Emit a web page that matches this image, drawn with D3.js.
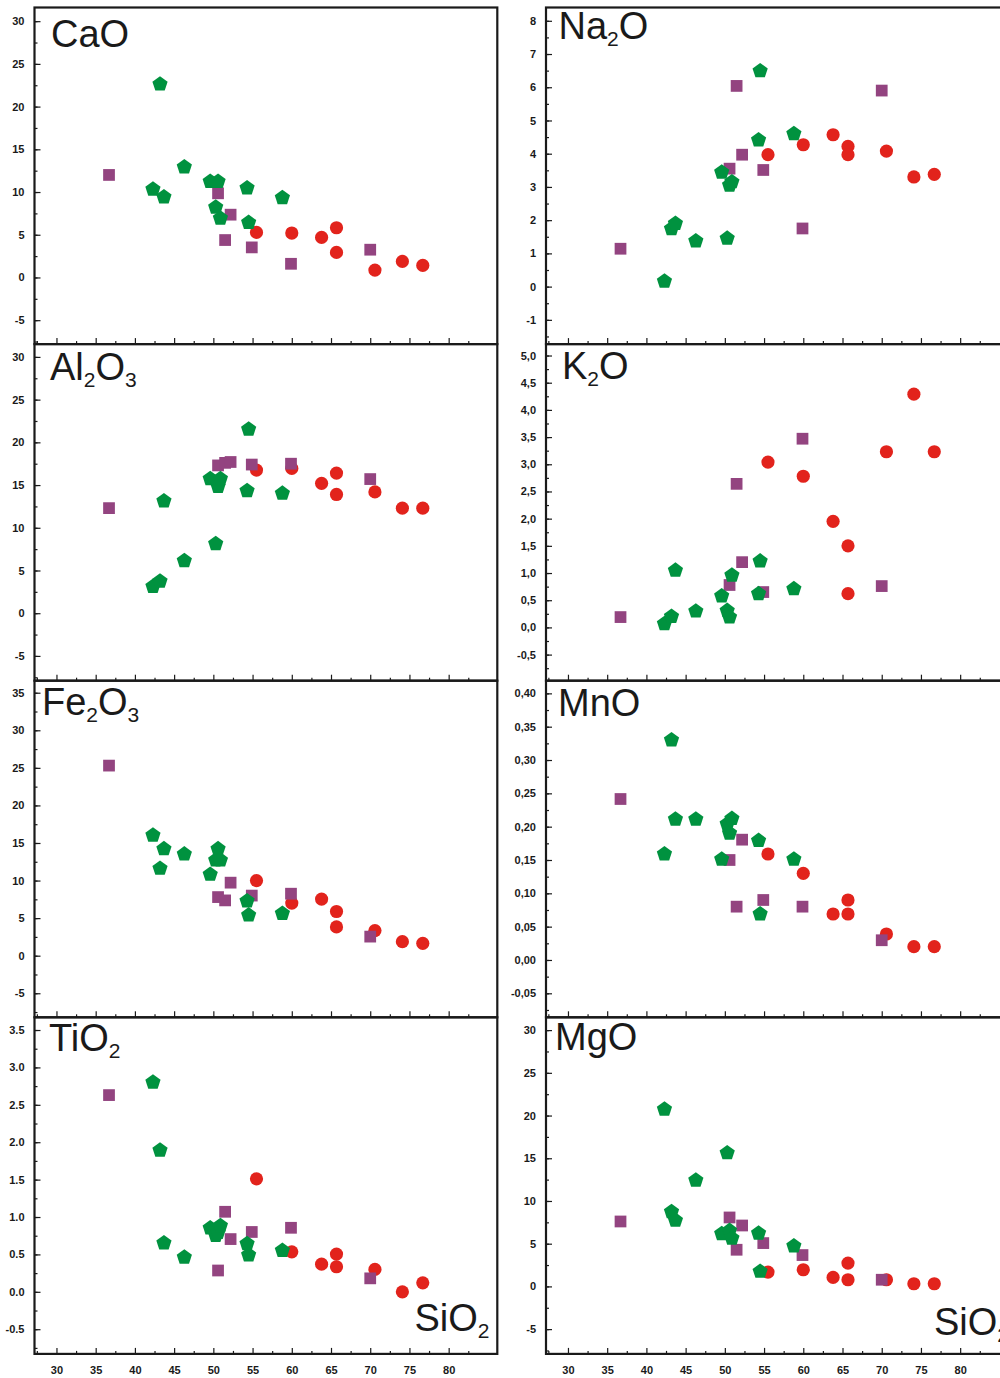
<!DOCTYPE html>
<html>
<head>
<meta charset="utf-8">
<script src="https://cdnjs.cloudflare.com/ajax/libs/d3/7.8.5/d3.min.js"></script>
<style>
body { margin: 0; background: #fff; }
.tick text { font-family: "Liberation Sans Narrow", "Liberation Sans", Arial, sans-serif; font-weight: bold; font-size: 11px; fill: #1a1a1a; }
.tick line { stroke: #1a1a1a; stroke-width: 1.2; }
.etiqueta { font-family: "Liberation Sans", Arial, sans-serif; fill: #1a1a1a; }
</style>
</head>
<body>
<div id="graficaHarker"></div>
<script>
// SiO2 de cada grupo (pentagonos verdes, cuadrados morados, circulos rojos)
var sio2Pent = [42.3, 43.2, 43.7, 46.3, 49.6, 50.3, 50.6, 50.9, 54.3, 54.5, 58.8];
var sio2Cuad = [36.7, 50.6, 51.5, 52.2, 54.9, 59.9, 70.0];
var sio2Circ = [55.5, 60.0, 63.8, 65.7, 65.7, 70.6, 74.1, 76.7];

var caoPent = [10.4, 22.7, 9.5, 13.0, 11.3, 8.3, 11.3, 7.0, 10.55, 6.5, 9.4];
var caoCuad = [12.0, 9.85, 4.38, 7.35, 3.52, 1.6, 3.25];
var caoCirc = [5.27, 5.2, 4.69, 5.82, 2.93, 0.86, 1.88, 1.41];

var na2oPent = [0.18, 1.76, 1.92, 1.39, 3.46, 1.47, 3.07, 3.17, 4.43, 6.51, 4.62];
var na2oCuad = [1.14, 3.55, 6.04, 3.97, 3.51, 1.75, 5.9];
var na2oCirc = [3.97, 4.27, 4.57, 4.22, 3.97, 4.08, 3.30, 3.38];

var al2o3Pent = [3.2, 3.8, 13.2, 6.2, 15.8, 8.2, 14.9, 15.8, 14.4, 21.6, 14.1];
var al2o3Cuad = [12.3, 17.3, 17.6, 17.7, 17.4, 17.5, 15.7];
var al2o3Circ = [16.75, 16.95, 15.2, 16.4, 13.9, 14.2, 12.3, 12.3];

var k2oPent = [0.08, 0.21, 1.06, 0.31, 0.59, 0.32, 0.2, 0.97, 0.63, 1.23, 0.72];
var k2oCuad = [0.19, 0.78, 2.64, 1.2, 0.65, 3.47, 0.76];
var k2oCirc = [3.04, 2.78, 1.95, 1.50, 0.62, 3.23, 4.29, 3.23];

var fe2o3Pent = [16.1, 11.7, 14.3, 13.6, 10.9, 12.8, 14.3, 12.8, 7.36, 5.48, 5.7];
var fe2o3Cuad = [25.3, 7.8, 7.36, 9.72, 8.0, 8.25, 2.54];
var fe2o3Circ = [10.0, 7.0, 7.53, 5.88, 3.83, 3.34, 1.87, 1.65];

var mnoPent = [0.160, 0.331, 0.212, 0.212, 0.152, 0.205, 0.191, 0.213, 0.180, 0.070, 0.152];
var mnoCuad = [0.2415, 0.150, 0.080, 0.1805, 0.090, 0.080, 0.0296];
var mnoCirc = [0.159, 0.130, 0.069, 0.090, 0.069, 0.039, 0.020, 0.020];

var tio2Pent = [2.81, 1.90, 0.66, 0.47, 0.86, 0.76, 0.80, 0.89, 0.65, 0.50, 0.56];
var tio2Cuad = [2.63, 0.285, 1.07, 0.705, 0.80, 0.856, 0.18];
var tio2Circ = [1.51, 0.535, 0.37, 0.504, 0.335, 0.30, 0.0, 0.12];

var mgoPent = [20.8, 8.8, 7.8, 12.5, 6.24, 15.7, 6.6, 5.7, 6.3, 1.83, 4.8];
var mgoCuad = [7.6, 8.07, 4.29, 7.13, 5.07, 3.67, 0.78];
var mgoCirc = [1.68, 1.95, 1.05, 2.73, 0.78, 0.78, 0.31, 0.31];

// etiquetas de los ejes
var ticksSio2 = [30, 35, 40, 45, 50, 55, 60, 65, 70, 75, 80];
var ticksCinco = [-5, 0, 5, 10, 15, 20, 25, 30];
var ticksFe = [-5, 0, 5, 10, 15, 20, 25, 30, 35];
var ticksNa = [-1, 0, 1, 2, 3, 4, 5, 6, 7, 8];
var ticksK = [-0.5, 0, 0.5, 1, 1.5, 2, 2.5, 3, 3.5, 4, 4.5, 5];
var ticksMn = [-0.05, 0, 0.05, 0.1, 0.15, 0.2, 0.25, 0.3, 0.35, 0.4];
var ticksTi = [-0.5, 0, 0.5, 1, 1.5, 2, 2.5, 3, 3.5];

var verde = "#00923f", morado = "#934480", rojo = "#e2231c";

function fmt(dec, sep) {
	return function(d) {
		var s = Math.abs(d).toFixed(dec).replace(".", sep);
		return (d < 0 ? "-" : "") + s;
	};
}

// formula: trozos [texto, es subindice]
var paneles = [
	{ ox: [["CaO", 0]], pent: caoPent, cuad: caoCuad, circ: caoCirc, dom: [-7.8, 31.6], ticks: ticksCinco, paso: 5, f: fmt(0, "."), col: 0, fila: 0, lx: 16.5, ly: 39.5 },
	{ ox: [["Na", 0], ["2", 1], ["O", 0]], pent: na2oPent, cuad: na2oCuad, circ: na2oCirc, dom: [-1.73, 8.4], ticks: ticksNa, paso: 1, f: fmt(0, "."), col: 1, fila: 0, lx: 12.5, ly: 31.5 },
	{ ox: [["Al", 0], ["2", 1], ["O", 0], ["3", 1]], pent: al2o3Pent, cuad: al2o3Cuad, circ: al2o3Circ, dom: [-7.9, 31.5], ticks: ticksCinco, paso: 5, f: fmt(0, "."), col: 0, fila: 1, lx: 15.5, ly: 36 },
	{ ox: [["K", 0], ["2", 1], ["O", 0]], pent: k2oPent, cuad: k2oCuad, circ: k2oCirc, dom: [-0.98, 5.21], ticks: ticksK, paso: 0.5, f: fmt(1, ","), col: 1, fila: 1, lx: 16, ly: 34.5 },
	{ ox: [["Fe", 0], ["2", 1], ["O", 0], ["3", 1]], pent: fe2o3Pent, cuad: fe2o3Cuad, circ: fe2o3Circ, dom: [-8.2, 36.6], ticks: ticksFe, paso: 5, f: fmt(0, "."), col: 0, fila: 2, lx: 7.5, ly: 34.5 },
	{ ox: [["MnO", 0]], pent: mnoPent, cuad: mnoCuad, circ: mnoCirc, dom: [-0.086, 0.419], ticks: ticksMn, paso: 0.05, f: fmt(2, ","), col: 1, fila: 2, lx: 12, ly: 35.5 },
	{ ox: [["TiO", 0], ["2", 1]], pent: tio2Pent, cuad: tio2Cuad, circ: tio2Circ, dom: [-0.83, 3.67], ticks: ticksTi, paso: 0.5, f: fmt(1, "."), col: 0, fila: 3, lx: 14.5, ly: 34 },
	{ ox: [["MgO", 0]], pent: mgoPent, cuad: mgoCuad, circ: mgoCirc, dom: [-7.9, 31.5], ticks: ticksCinco, paso: 5, f: fmt(0, "."), col: 1, fila: 3, lx: 9, ly: 33 }
];

var ancho = 1000, alto = 1378;
var colX = [34.5, 546], panelW = 462.8, panelH = 336.6, top0 = 7.5;

var svg = d3.select("#graficaHarker")
	.append("svg")
	.attr("width", ancho)
	.attr("height", alto);

var x = d3.scaleLinear().domain([27.2, 86.2]);

function pentagono(r) {
	var pts = d3.range(5).map(function(i) {
		var a = -Math.PI / 2 + i * 2 * Math.PI / 5;
		return [r * Math.cos(a), r * Math.sin(a) + 0.6];
	});
	return "M" + pts.join("L") + "Z";
}

function formula(g, trozos, px, py) {
	var t = g.append("text")
		.attr("class", "etiqueta")
		.attr("x", px)
		.attr("y", py)
		.style("font-size", "38px");
	var abajo = false;
	trozos.forEach(function(tr) {
		var sub = tr[1] == 1;
		var dy = sub ? (abajo ? 0 : 7) : (abajo ? -7 : 0);
		t.append("tspan")
			.attr("dy", dy)
			.style("font-size", sub ? "21px" : "38px")
			.text(tr[0]);
		abajo = sub;
	});
}

paneles.forEach(function(p) {
	var x0 = colX[p.col], y0 = top0 + p.fila * panelH;
	var g = svg.append("g").attr("transform", "translate(" + x0 + "," + y0 + ")");
	var xs = x.copy().range([0, panelW]);
	var y = d3.scaleLinear().domain(p.dom).range([panelH, 0]);

	// ticks menores eje y
	var menores = [];
	for (var v = Math.ceil(p.dom[0] / (p.paso / 2)) * p.paso / 2; v <= p.dom[1]; v += p.paso / 2) menores.push(v);
	g.append("g")
		.call(d3.axisLeft(y).tickValues(menores).tickSizeInner(-3).tickSizeOuter(0).tickFormat(""))
		.call(function(s) { s.select(".domain").remove(); });
	g.append("g")
		.call(d3.axisLeft(y).tickValues(p.ticks).tickSizeInner(-6).tickSizeOuter(0).tickPadding(10).tickFormat(p.f))
		.call(function(s) { s.select(".domain").remove(); });

	// eje x (solo etiquetas en la ultima fila)
	var menX = d3.range(27.5, 85, 5);
	g.append("g")
		.attr("transform", "translate(0," + panelH + ")")
		.call(d3.axisBottom(xs).tickValues(menX).tickSizeInner(-3).tickSizeOuter(0).tickFormat(""))
		.call(function(s) { s.select(".domain").remove(); });
	g.append("g")
		.attr("transform", "translate(0," + panelH + ")")
		.call(d3.axisBottom(xs).tickValues(ticksSio2).tickSizeInner(-6).tickSizeOuter(0).tickPadding(12)
			.tickFormat(p.fila == 3 ? d3.format("d") : ""))
		.call(function(s) { s.select(".domain").remove(); });

	// marco
	g.append("rect")
		.attr("width", panelW)
		.attr("height", panelH)
		.attr("fill", "none")
		.attr("stroke", "#1a1a1a")
		.attr("stroke-width", 2.2);

	// puntos: circulos, cuadrados y pentagonos encima
	g.selectAll(".circ")
		.data(p.circ)
		.enter()
		.append("circle")
		.attr("cx", function(d, i) { return xs(sio2Circ[i]); })
		.attr("cy", function(d) { return y(d); })
		.attr("r", 6.6)
		.style("fill", rojo);

	g.selectAll(".cuad")
		.data(p.cuad)
		.enter()
		.append("path")
		.attr("d", d3.symbol().type(d3.symbolSquare).size(138))
		.attr("transform", function(d, i) { return "translate(" + xs(sio2Cuad[i]) + "," + y(d) + ")"; })
		.style("fill", morado);

	g.selectAll(".pent")
		.data(p.pent)
		.enter()
		.append("path")
		.attr("d", pentagono(8))
		.attr("transform", function(d, i) { return "translate(" + xs(sio2Pent[i]) + "," + y(d) + ")"; })
		.style("fill", verde);

	// nombre del oxido
	formula(g, p.ox, p.lx, p.ly);

	if (p.fila == 3) {
		formula(g, [["SiO", 0], ["2", 1]], p.col == 0 ? 380 : 388, p.col == 0 ? panelH - 23 : panelH - 19);
	}
});
</script>
</body>
</html>
